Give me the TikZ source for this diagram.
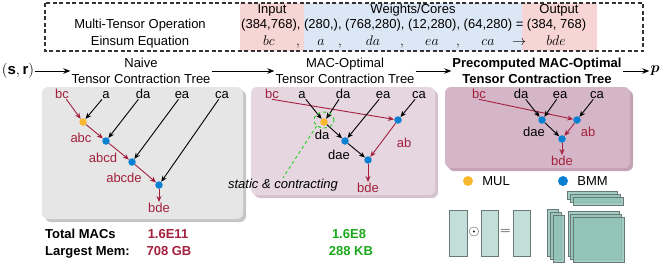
\RequirePackage{fix-cm}
\documentclass[tikz,border=0pt]{standalone}
\usepackage{fontspec}
\setmainfont{Liberation Sans}
\usepackage{amsmath}
\usepackage{tikz}
\usepackage{xcolor}
\usetikzlibrary{
    positioning,
    calc,
    shapes.geometric,
    arrows.meta
}
\definecolor{InputPink}{HTML}{F8D5D5}
\definecolor{WeightBlue}{HTML}{DCE7F6}
\definecolor{TreeRed}{HTML}{A3213D}
\definecolor{GainGreen}{HTML}{1BA81B}
\definecolor{StaticGreen}{HTML}{2BD42B}
\definecolor{MulOrange}{HTML}{F9B82E}
\definecolor{BmmBlue}{HTML}{0A80D3}
\definecolor{NaiveGray}{HTML}{E6E6E6}
\definecolor{NaiveShadow}{HTML}{C6C6C6}
\definecolor{OptMauve}{HTML}{E5D6E0}
\definecolor{OptShadow}{HTML}{D5C2CE}
\definecolor{PreMauve}{HTML}{D5B6C8}
\definecolor{PreShadow}{HTML}{C4A3B6}
\definecolor{VecTeal}{HTML}{C3DDD8}
\definecolor{MatTeal}{HTML}{93C4B8}
\definecolor{IconEdge}{HTML}{697A76}

\newcommand{\figfont}{\fontsize{13}{16}\selectfont}

\tikzset{
    txt/.style={font=\figfont, inner sep=1pt},
    redtxt/.style={txt, text=TreeRed},
    mathtxt/.style={font=\fontsize{14}{16}\selectfont, inner sep=1pt},
    mul/.style={circle, fill=MulOrange, minimum size=7.5pt, inner sep=0pt},
    bmm/.style={circle, fill=BmmBlue, minimum size=7.5pt, inner sep=0pt},
    arr/.style={-{Stealth[length=6pt,width=5pt]}, line width=0.9pt},
    redarr/.style={arr, draw=TreeRed},
    flow/.style={-{Stealth[length=7pt,width=5.5pt]}, line width=1pt},
    panel/.style={rounded corners=6pt},
    vecbox/.style={draw=IconEdge, fill=VecTeal, line width=1pt},
    matbox/.style={draw=IconEdge, fill=MatTeal, fill opacity=0.85, line width=0.8pt}
}

\begin{document}
\begin{tikzpicture}[x=1pt,y=-1pt]
\useasboundingbox (0,0) rectangle (664,266);

% operand table
\fill[InputPink] (240,3) rectangle (304,51);
\fill[WeightBlue] (304,3) rectangle (522,51);
\fill[InputPink] (522,3) rectangle (597,51);
\draw[dash pattern=on 4pt off 2.5pt, line width=1.2pt, draw=black!80] (45,3) rectangle (643,51);

\node[txt, anchor=base] (op) at (140,28.5) {Multi-Tensor Operation};
\node[txt, anchor=base] (eq) at (140,45.5) {Einsum Equation};
\node[txt, anchor=base] (hin) at (272,13) {Input};
\node[txt, anchor=base] (hw) at (413,13) {Weights/Cores};
\node[txt, anchor=base] (hout) at (559,13) {Output};
\node[txt, anchor=base west] (shapes) at (240,28.5) {(384,768), (280,), (768,280), (12,280), (64,280) = (384, 768)};
\foreach \x/\s [count=\i] in {269/bc, 298/{,}, 321/a, 340/{,}, 373/da, 402/{,}, 432/ea, 458/{,}, 488/ca, 519/\rightarrow, 556/bde}
    \node[mathtxt, anchor=base] (ein\i) at (\x,45.5) {$\s$};

% stages
\node[txt, font=\fontsize{15}{16}\selectfont] (sr) at (18,71) {$(\mathbf{s},\mathbf{r})$};
\node[txt, align=center] (naive) at (141,71) {Naive\\Tensor Contraction Tree};
\node[txt, align=center] (macopt) at (345,71) {MAC-Optimal\\Tensor Contraction Tree};
\node[txt, align=center, font=\figfont\bfseries] (precomp) at (537,71) {Precomputed MAC-Optimal\\Tensor Contraction Tree};
\node[txt, font=\fontsize{15}{16}\selectfont] (pout) at (655,71) {$\boldsymbol{p}$};
\draw[flow] (sr) -- (naive);
\draw[flow] (naive) -- (macopt);
\draw[flow] (macopt) -- (precomp);
\draw[flow] (precomp) -- (pout);

% panels
\fill[NaiveShadow, panel] (45,90) rectangle (246,222);
\fill[NaiveGray, panel] (42,87) rectangle (243,219);
\fill[OptShadow, panel] (254,90) rectangle (438,198);
\fill[OptMauve, panel] (251,87) rectangle (435,195);
\fill[PreShadow, panel] (448,90) rectangle (633,171);
\fill[PreMauve, panel] (445,87) rectangle (630,168);

% naive tree
\node[redtxt, anchor=base] (bc1) at (62,98) {bc};
\node[txt, anchor=base] (a1) at (106,98) {a};
\node[txt, anchor=base] (da1) at (143,98) {da};
\node[txt, anchor=base] (ea1) at (182,98) {ea};
\node[txt, anchor=base] (ca1) at (222,98) {ca};
\node[mul] (mul1) at (83,122) {};
\node[bmm] (na1) at (106,141) {};
\node[bmm] (nb1) at (132,162) {};
\node[bmm] (nc1) at (159,185) {};
\node[redtxt] (abc1) at (81,138) {abc};
\node[redtxt] (abcd1) at (103,158) {abcd};
\node[redtxt] (abcde1) at (124,178) {abcde};
\node[redtxt] (bde1) at (159,208) {bde};
\draw[redarr] (bc1) -- (mul1);
\draw[arr] (a1) -- (mul1);
\draw[arr] (da1) -- (na1);
\draw[arr] (ea1) -- (nb1);
\draw[arr] (ca1) -- (nc1);
\draw[redarr] (mul1) -- (na1);
\draw[redarr] (na1) -- (nb1);
\draw[redarr] (nb1) -- (nc1);
\draw[redarr] (nc1) -- (bde1);

% MAC-optimal tree
\node[redtxt, anchor=base] (bc2) at (272,98) {bc};
\node[txt, anchor=base] (a2) at (302,98) {a};
\node[txt, anchor=base] (da2) at (343,98) {da};
\node[txt, anchor=base] (ea2) at (383,98) {ea};
\node[txt, anchor=base] (ca2) at (419,98) {ca};
\node[mul] (mul2) at (324,122) {};
\node[bmm] (ab2) at (398,120) {};
\node[bmm] (dae2) at (345,141) {};
\node[bmm] (out2) at (368,160) {};
\node[txt] (dalbl2) at (322,135) {da};
\node[txt] (daelbl2) at (339,155) {dae};
\node[redtxt] (ablbl2) at (404,143) {ab};
\node[redtxt] (bde2) at (368,188) {bde};
\draw[redarr] (bc2.south) -- (ab2);
\draw[arr] (a2) -- (mul2);
\draw[arr] (da2) -- (mul2);
\draw[arr] (ea2) -- (dae2);
\draw[arr] (ca2) -- (ab2);
\draw[arr] (mul2) -- (dae2);
\draw[arr] (dae2) -- (out2);
\draw[redarr] (ab2) -- (out2);
\draw[redarr] (out2) -- (bde2);
\node[draw=StaticGreen, dashed, ellipse, line width=1pt, minimum width=20pt, minimum height=16pt] (static) at (324,120) {};
\node[txt, font=\figfont\itshape] (statictxt) at (283,185) {static \& contracting};
\draw[StaticGreen, dashed, line width=1pt] (static.south west) -- (statictxt.north);

% precomputed tree
\node[redtxt, anchor=base] (bc3) at (479,98) {bc};
\node[txt, anchor=base] (da3) at (521,98) {da};
\node[txt, anchor=base] (ea3) at (560,98) {ea};
\node[txt, anchor=base] (ca3) at (597,98) {ca};
\node[bmm] (dae3) at (542,120) {};
\node[bmm] (ab3) at (577,120) {};
\node[bmm] (out3) at (562,139) {};
\node[txt] (daelbl3) at (534,132) {dae};
\node[redtxt] (ablbl3) at (588,132) {ab};
\node[redtxt] (bde3) at (562,161) {bde};
\draw[redarr] (bc3.south) -- (ab3);
\draw[arr] (da3) -- (dae3);
\draw[arr] (ea3) -- (dae3);
\draw[arr] (ca3) -- (ab3);
\draw[arr] (dae3) -- (out3);
\draw[redarr] (ab3) -- (out3);
\draw[redarr] (out3) -- (bde3);

% legend
\node[mul, minimum size=10pt] (legmul) at (468,181) {};
\node[txt, right=8pt of legmul] (legmultxt) {MUL};
\node[bmm, minimum size=10pt] (legbmm) at (563,181) {};
\node[txt, right=8pt of legbmm] (legbmmtxt) {BMM};

% costs
\node[txt, font=\figfont\bfseries, anchor=base west] (totmac) at (44,238.5) {Total MACs};
\node[txt, font=\figfont\bfseries, anchor=base west] (largest) at (44,255) {Largest Mem:};
\node[txt, font=\figfont\bfseries, text=TreeRed, anchor=base] (macnaive) at (168,238.5) {1.6E11};
\node[txt, font=\figfont\bfseries, text=TreeRed, anchor=base] (memnaive) at (169,255) {708 GB};
\node[txt, font=\figfont\bfseries, text=GainGreen, anchor=base] (macgain) at (349,238.5) {1.6E8};
\node[txt, font=\figfont\bfseries, text=GainGreen, anchor=base] (memgain) at (351,255) {288 KB};

% MUL and BMM icons
\draw[vecbox] (449,210) rectangle (467,256);
\node[mathtxt] (odot) at (474,232) {$\odot$};
\draw[vecbox] (481,210) rectangle (498,256);
\node[mathtxt] (eqsign) at (505.5,232) {$=$};
\draw[vecbox] (513,210) rectangle (530,256);
\foreach \d in {0,3,6} {
    \draw[matbox] ($(547,209)+(\d,\d)$) rectangle ($(558,256)+(\d,\d)$);
    \draw[matbox] ($(567,191)+(\d,\d)$) rectangle ($(617,199)+(\d,\d)$);
    \draw[matbox] ($(568,211)+(\d*0.9,\d)$) rectangle ($(619,256)+(\d*0.9,\d)$);
}

\end{tikzpicture}
\end{document}
